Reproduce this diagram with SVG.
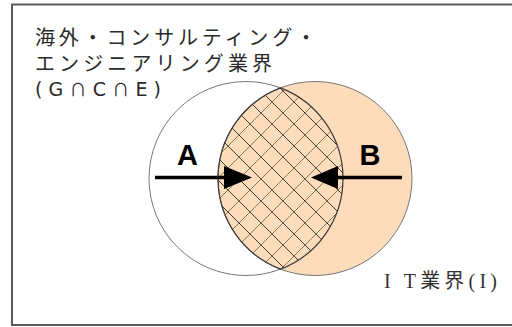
<svg xmlns="http://www.w3.org/2000/svg" width="512" height="327" viewBox="0 0 512 327">
  <defs>
    <style>
      .jp { font-family: "Liberation Sans", "Noto Sans CJK JP", sans-serif; fill: #2a2a2a; font-size: 20px; }
      .dv { font-family: "DejaVu Sans", "Noto Sans CJK JP", sans-serif; fill: #2a2a2a; font-size: 19px; }
      .cap { font-family: "Noto Sans CJK JP", sans-serif; font-size: 17px; }
      .lbl { font-family: "Liberation Sans", Arial, sans-serif; font-weight: bold; font-size: 29px; fill: #000; }
      .ser { font-family: "Liberation Serif", "Noto Sans CJK JP", serif; fill: #333; font-size: 20px; }
      .circ { stroke: #777; stroke-width: 1; }
      .arrow { stroke: #000; stroke-width: 3.5; }
    </style>
    <pattern id="hatch" patternUnits="userSpaceOnUse" x="250" y="146" width="22" height="22">
      <path d="M-2,20 L2,24 M0,0 L22,22 M20,-2 L24,2" stroke="#3e3a34" stroke-width="1" fill="none"/>
      <path d="M-2,2 L2,-2 M0,22 L22,0 M20,24 L24,20" stroke="#857a58" stroke-width="1" fill="none"/>
    </pattern>
  </defs>
  <rect x="0" y="0" width="512" height="327" fill="#fff"/>
  <rect x="12" y="4.5" width="520" height="320.5" fill="none" stroke="#5a5a5a" stroke-width="2"/>

  <g id="circle-G">
    <circle class="circ" cx="246" cy="178.5" r="97" fill="#fff"/>
  </g>
  <g id="circle-I">
    <circle class="circ" cx="315" cy="178.5" r="97" fill="#fddcbb"/>
  </g>
  <g id="intersection">
    <path d="M280.5,87.84 A97,97 0 0 1 280.5,269.16 A97,97 0 0 1 280.5,87.84 Z" fill="url(#hatch)" stroke="#3a3a3a" stroke-width="1.2"/>
  </g>

  <g id="label-G">
    <text class="jp" x="35" y="45" textLength="281" lengthAdjust="spacing">海外・コンサルティング・</text>
    <text class="jp" x="35" y="71" textLength="237" lengthAdjust="spacing">エンジニアリング業界</text>
    <text class="dv" x="35" y="96" textLength="126" lengthAdjust="spacing">(G<tspan class="cap">∩</tspan>C<tspan class="cap">∩</tspan>E)</text>
  </g>
  <g id="label-I">
    <text class="ser" x="384" y="288" textLength="113" lengthAdjust="spacing">I T業界(I)</text>
  </g>

  <g id="connectors">
    <g id="arrow-A">
      <line class="arrow" x1="155" y1="177.5" x2="228" y2="177.5"/>
      <polygon points="224,166 252,177.5 224,189" fill="#000"/>
    </g>
    <g id="arrow-B">
      <line class="arrow" x1="334" y1="177.5" x2="402" y2="177.5"/>
      <polygon points="338,166 311,177.5 338,189" fill="#000"/>
    </g>
  </g>
  <g id="node-A"><text class="lbl" x="187.5" y="165" text-anchor="middle">A</text></g>
  <g id="node-B"><text class="lbl" x="370" y="165" text-anchor="middle">B</text></g>
</svg>
